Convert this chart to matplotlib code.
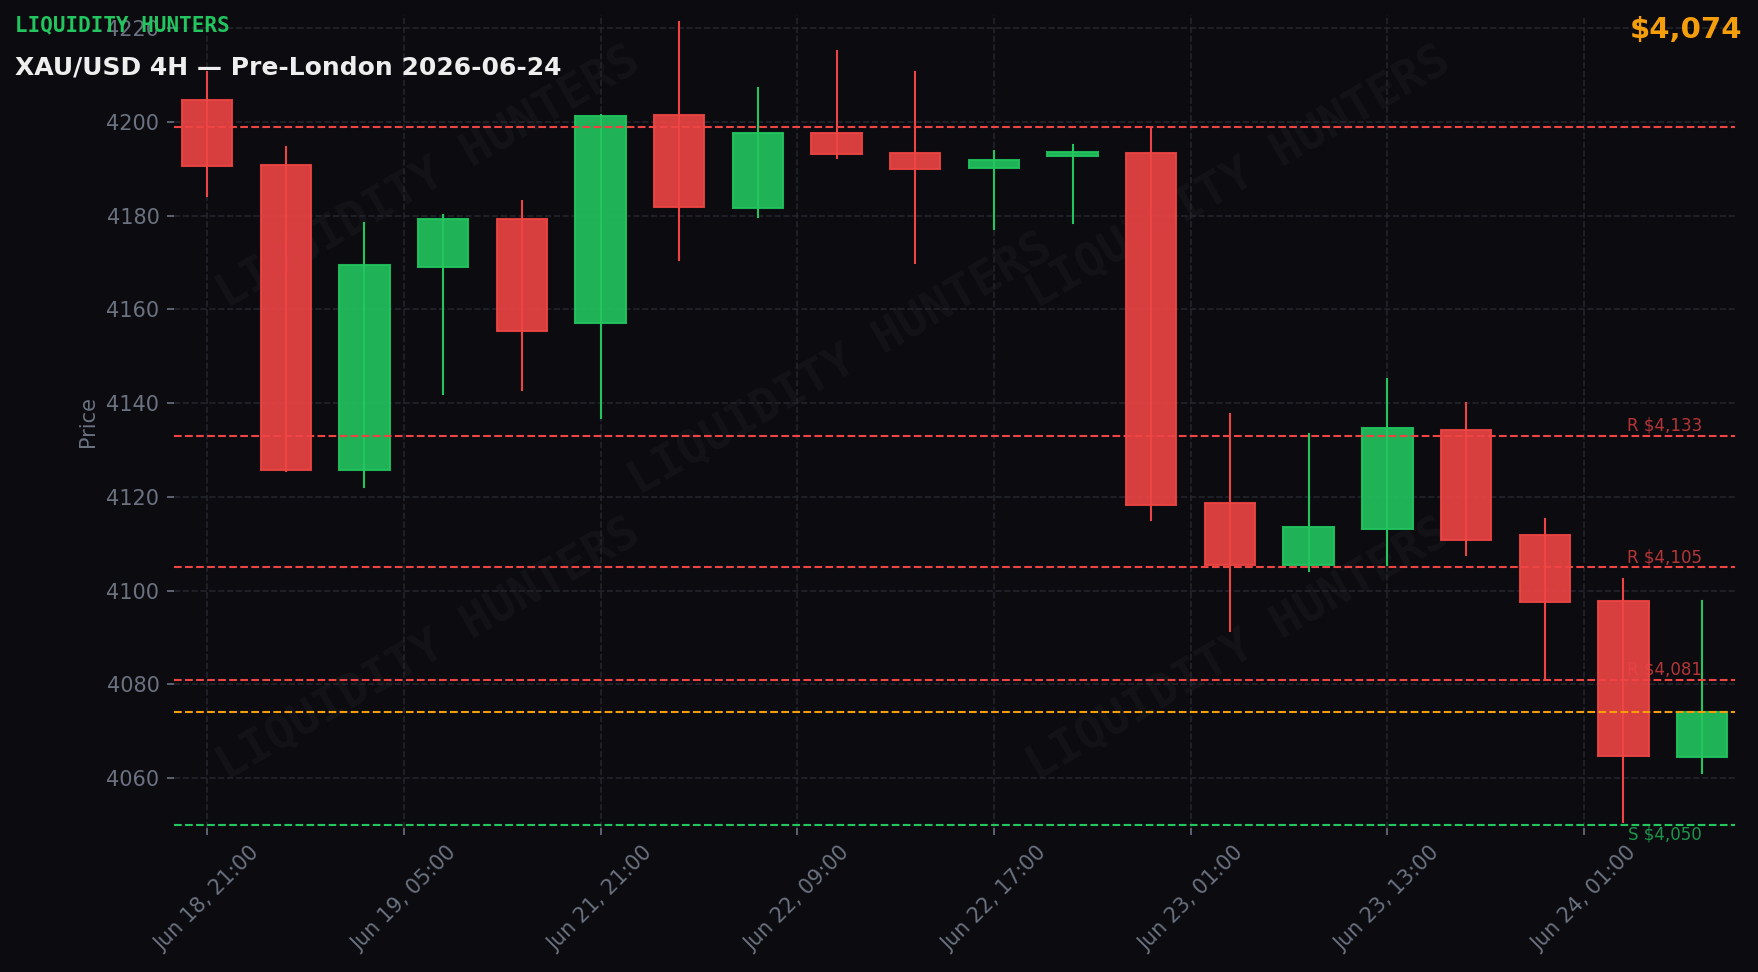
import matplotlib
matplotlib.use("Agg")
import matplotlib.pyplot as plt
from matplotlib.patches import Rectangle
from matplotlib.ticker import FuncFormatter
import numpy as np

# candle data (4H, index based x-axis)
times = ["Jun 18, 21:00", "Jun 19, 01:00", "Jun 19, 05:00", "Jun 19, 09:00", "Jun 19, 13:00",
         "Jun 21, 21:00", "Jun 22, 01:00", "Jun 22, 09:00", "Jun 22, 13:00", "Jun 22, 15:00",
         "Jun 22, 17:00", "Jun 22, 21:00", "Jun 23, 01:00", "Jun 23, 05:00", "Jun 23, 09:00",
         "Jun 23, 13:00", "Jun 23, 17:00", "Jun 24, 01:00", "Jun 24, 05:00", "Jun 24, 09:00"]
opens = [4204.6, 4190.8, 4125.8, 4169.1, 4179.2, 4157.0, 4201.4, 4181.6, 4197.6, 4193.3,
         4190.1, 4192.7, 4193.3, 4118.6, 4105.4, 4113.2, 4134.3, 4111.8, 4097.7, 4064.5]
highs = [4210.7, 4194.7, 4178.5, 4180.2, 4183.1, 4201.5, 4221.3, 4207.3, 4215.1, 4210.7,
         4193.8, 4195.1, 4198.5, 4137.7, 4133.4, 4145.2, 4140.0, 4115.3, 4102.5, 4097.8]
lows = [4184.1, 4125.4, 4122.0, 4142.0, 4142.7, 4136.8, 4170.6, 4179.6, 4192.2, 4169.8,
        4177.2, 4178.5, 4115.0, 4091.3, 4104.1, 4105.5, 4107.6, 4081.3, 4050.7, 4061.0]
closes = [4190.6, 4125.8, 4169.4, 4179.2, 4155.3, 4201.2, 4181.8, 4197.6, 4193.1, 4189.9,
          4191.8, 4193.6, 4118.3, 4105.5, 4113.5, 4134.6, 4110.8, 4097.5, 4064.7, 4074.0]

resistance = [4133, 4105, 4081]
support = [4050]
upper_line = 4199
current_price = 4074

BG = "#0b0b10"
RED = "#ef4444"
GREEN = "#22c55e"
ORANGE = "#f59e0b"
GRAY = "#6b7280"

fig = plt.figure(figsize=(11.72, 6.48), dpi=150, facecolor=BG)
ax = fig.add_axes([0.099, 0.148, 0.888, 0.8366])
ax.set_facecolor(BG)

# watermark
for (wx, wy) in [(0.163, 0.80), (0.427, 0.57), (0.682, 0.80), (0.163, 0.22), (0.682, 0.22)]:
    ax.text(wx, wy, "LIQUIDITY HUNTERS", transform=ax.transAxes, rotation=30,
            ha="center", va="center", fontsize=22.5, family="DejaVu Sans Mono",
            fontweight="bold", color="white", alpha=0.035, zorder=0.5)

# candles
width = 0.64
for i in range(len(opens)):
    o, h, l, c = opens[i], highs[i], lows[i], closes[i]
    color = GREEN if c >= o else RED
    ax.plot([i, i], [l, h], color=color, linewidth=1.0, zorder=2)
    bottom = min(o, c)
    height = max(abs(c - o), 0.3)
    ax.add_patch(Rectangle((i - width / 2, bottom), width, height, facecolor=color,
                           edgecolor=color, alpha=0.9, linewidth=1.0, zorder=3))

# levels
ax.axhline(upper_line, color=RED, linestyle="--", linewidth=1.0, zorder=4)
for r in resistance:
    ax.axhline(r, color=RED, linestyle="--", linewidth=1.0, zorder=4)
    ax.text(len(opens) - 1, r + 0.2, f"R ${r:,}", color=RED, alpha=0.75, fontsize=8,
            ha="right", va="bottom", zorder=5)
for s in support:
    ax.axhline(s, color=GREEN, linestyle="--", linewidth=1.0, zorder=4)
    ax.text(len(opens) - 1, s - 0.1, f"S ${s:,}", color=GREEN, alpha=0.75, fontsize=8,
            ha="right", va="top", zorder=5)
ax.axhline(current_price, color=ORANGE, linestyle="--", linewidth=1.0, zorder=4)

ax.set_xlim(-0.42, 19.42)
ax.set_ylim(4049.3, 4222.8)
ax.set_xticks(np.arange(0, len(opens), 2.5))
ax.xaxis.set_major_formatter(FuncFormatter(lambda x, pos: times[int(x)] if 0 <= int(x) < len(times) else ""))
plt.setp(ax.get_xticklabels(), rotation=45)
ax.tick_params(colors=GRAY, labelsize=10)
ax.set_ylabel("Price", color=GRAY, fontsize=10)
ax.grid(True, color="#23242c", linestyle="--", linewidth=0.8)
for sp in ax.spines.values():
    sp.set_visible(False)

fig.text(0.0083, 0.984, "LIQUIDITY HUNTERS", color=GREEN, fontsize=10,
         family="DejaVu Sans Mono", fontweight="bold", ha="left", va="top")
fig.text(0.0083, 0.923, "XAU/USD 4H \u2014 Pre-London 2026-06-24", color="#eeeeee",
         fontsize=12, fontweight="bold", ha="left", va="baseline")
fig.text(0.991, 0.961, f"${current_price:,}", color=ORANGE, fontsize=14,
         fontweight="bold", ha="right", va="baseline")

fig.savefig("out.png", dpi=150, facecolor=BG)
